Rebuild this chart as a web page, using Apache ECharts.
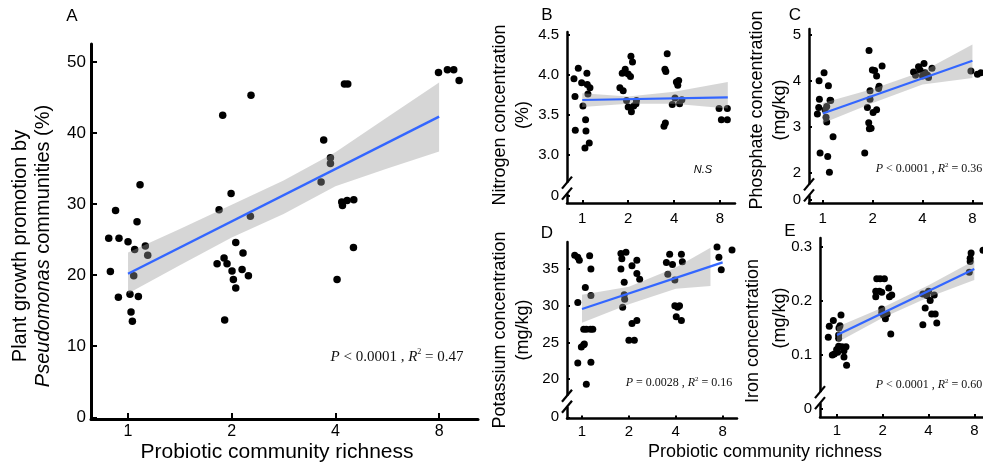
<!DOCTYPE html>
<html><head><meta charset="utf-8">
<script src="https://cdn.jsdelivr.net/npm/echarts@6/dist/echarts.min.js"></script>
<style>html,body{margin:0;padding:0;background:#fff}#c{width:983px;height:468px}</style>
</head><body><div id="c"></div>
<script>
const SANS = "'Liberation Sans', Arial, sans-serif";
const SERIF = "'Liberation Serif', 'Times New Roman', serif";

// Probiotic community richness (axis ticks drawn on log2 positions)
const richness = [1, 2, 4, 8];
const richnessPos = richness.map(v => Math.log2(v));

// Points: [jittered log2(richness), value]
const growthPoints = [
  [-0.186,25.2],[-0.17,20.5],[-0.12,29.1],[-0.093,16.9],[-0.087,25.2],[0,24.7],[0.019,17.3],[0.029,14.8],
  [0.042,13.5],[0.055,19.9],[0.064,23.6],[0.087,27.5],[0.1,17.0],[0.116,32.7],[0.167,24.1],[0.19,22.8],
  [0.859,21.6],[0.878,29.2],[0.913,42.5],[0.926,22.4],[0.932,13.7],[0.955,21.6],[0.994,31.5],[1.003,20.6],
  [1.016,19.4],[1.039,24.6],[1.039,18.2],[1.1,20.8],[1.109,23.1],[1.161,19.9],[1.18,28.3],[1.186,45.3],
  [1.862,33.1],[1.887,39.0],[1.952,36.5],[1.952,35.7],[2.016,19.4],[2.061,30.3],[2.068,29.8],[2.087,46.9],
  [2.113,30.5],[2.119,46.9],[2.177,30.6],[2.174,23.9],
  [2.994,48.5],[3.08,48.9],[3.141,48.9],[3.193,47.4]
];
const growthFit = [[0,20.2],[3,42.3]];
const growthBand = [[0,17.4,23.2],[0.5,21.4,26.5],[1,25.3,29.9],[1.5,28.6,33.3],[2,32.5,37.3],[2.5,35.0,42.2],[3,37.4,47.1]];
const growthTicks = [0,10,20,30,40,50];

const nitrogenPoints = [
  [-0.181,3.95],[-0.159,3.73],[-0.152,3.31],[-0.087,4.08],[-0.014,3.90],[0.014,3.61],[0.072,3.44],[0.08,3.30],
  [0.058,3.09],[0.101,4.02],[0.109,3.88],[0.123,3.76],[0.167,3.84],[0.152,3.15],
  [0.819,3.84],[0.891,3.80],[0.87,4.02],[0.935,4.07],[1.0,4.01],[0.964,3.68],[1.0,3.60],[1.05,3.98],
  [1.06,4.23],[1.094,4.16],[1.07,3.54],[1.12,3.61],[1.18,3.68],[1.17,3.64],
  [1.80,4.07],[1.82,4.04],[1.85,4.26],[1.81,3.40],[1.78,3.36],[1.96,3.63],[2.02,3.71],[2.08,3.87],
  [2.10,3.93],[2.12,3.64],[2.17,3.69],[2.05,3.91],
  [2.98,3.58],[3.16,3.58],[3.03,3.44],[3.16,3.44]
];
const nitrogenFit = [[0,3.686],[3.17,3.72]];
const nitrogenBand = [[0,3.60,3.77],[1,3.64,3.73],[2,3.64,3.79],[3.17,3.58,3.91]];
const nitrogenTicks = [3.0,3.5,4.0,4.5];

const phosphatePoints = [
  [-0.107,3.28],[-0.08,3.42],[-0.073,4.0],[-0.053,2.44],[-0.067,3.60],[0.027,4.17],[0.047,3.37],[0.067,3.21],
  [0.08,3.11],[0.1,2.36],[0.114,3.89],[0.134,2.02],[0.147,3.58],[0.16,3.57],[0.207,2.79],[0.08,3.44],
  [0.842,2.44],[0.928,4.65],[0.895,3.42],[0.922,3.09],[0.948,3.60],[0.969,2.97],[0.948,3.78],[0.995,4.23],
  [1.01,3.31],[1.04,4.22],[1.08,4.10],[1.08,3.37],[1.12,3.83],[1.13,3.88],[1.19,4.32],[0.935,2.96],
  [1.82,4.19],[1.86,4.12],[1.92,4.30],[1.95,4.23],[2.03,4.37],[2.05,4.17],[2.1,4.12],[2.12,4.07],
  [2.19,4.27],[2.0,4.10],
  [2.97,4.21],[3.1,4.14],[3.17,4.17]
];
const phosphateFit = [[0,3.29],[3,4.43]];
const phosphateBand = [[0,3.08,3.52],[1,3.52,3.82],[2,3.92,4.20],[3,4.06,4.78]];
const phosphateTicks = [2,3,4,5];

const potassiumPoints = [
  [-0.156,36.86],[-0.09,36.6],[-0.057,36.2],[-0.09,30.45],[-0.09,22.2],[-0.014,24.4],[0.036,24.7],[0.05,24.8],
  [0.036,26.8],[0.092,19.3],[0.071,32.5],[0.092,26.8],[0.163,36.8],[0.19,35.0],[0.19,31.4],[0.19,22.3],
  [0.18,26.8],[0.23,26.8],
  [0.83,37.1],[0.85,36.4],[0.83,35.0],[0.867,29.8],[0.938,37.3],[0.9,33.2],[0.9,31.5],[0.91,30.9],
  [1.0,25.3],[1.066,35.45],[1.066,27.6],[1.116,25.3],[1.17,36.2],[1.17,28.0],[1.17,34.4],[1.23,33.6],
  [1.8,35.9],[1.83,34.3],[1.87,37.0],[1.93,35.6],[1.98,33.5],[1.98,30.0],[2.01,28.5],[2.04,29.8],
  [2.08,30.0],[2.12,37.0],[2.12,28.0],[2.14,36.0],
  [2.88,38.0],[2.92,36.6],[2.97,34.9],[3.2,37.6]
];
const potassiumFit = [[0,29.55],[3,35.9]];
const potassiumBand = [[0,27.7,31.5],[1,30.2,32.6],[2,32.3,35.2],[2.74,32.7,37.9]];
const potassiumTicks = [20,25,30,35];

const ironPoints = [
  [-0.19,0.132],[-0.168,0.152],[-0.102,0.099],[-0.08,0.163],[-0.058,0.101],[-0.007,0.109],[0.015,0.104],[0.036,0.136],
  [0.036,0.115],[0.044,0.149],[0.066,0.153],[0.088,0.173],[0.11,0.114],[0.153,0.107],[0.153,0.095],[0.197,0.114],
  [0.21,0.08],[0.036,0.13],
  [0.869,0.24],[0.942,0.24],[0.847,0.207],[0.847,0.217],[0.927,0.217],[0.978,0.184],[0.978,0.177],[1.036,0.24],
  [1.058,0.166],[1.095,0.175],[1.13,0.223],[1.146,0.207],[1.197,0.21],[1.175,0.138],[0.978,0.215],[1.015,0.173],
  [1.876,0.155],[1.927,0.186],[1.876,0.212],[1.93,0.212],[2.0,0.217],[2.036,0.2],[2.07,0.175],[2.124,0.21],
  [2.146,0.175],[2.18,0.158],[1.963,0.209],
  [2.89,0.252],[2.91,0.278],[2.93,0.288],[3.19,0.293],[2.91,0.272]
];
const ironFit = [[0,0.136],[3,0.258]];
const ironBand = [[0,0.122,0.151],[1,0.168,0.187],[2,0.206,0.228],[3,0.238,0.274]];
const ironTicks = [0,0.1,0.2,0.3];

// panel setup (layout)
const panels = [
  {points:growthPoints, fit:growthFit, band:growthBand, ticks:growthTicks, fmt:v=>String(v),
   grid:{left:91, top:44, width:387, height:375}, x:[-0.357,3.375], y:[-0.24,52.52],
   zero:null, brk:null, big:true},
  {points:nitrogenPoints, fit:nitrogenFit, band:nitrogenBand, ticks:nitrogenTicks, fmt:v=>v.toFixed(1),
   grid:{left:567, top:32, width:168, height:171}, x:[-0.333,3.327], y:[2.405,4.532],
   zero:2.496, brk:2.59},
  {points:phosphatePoints, fit:phosphateFit, band:phosphateBand, ticks:phosphateTicks, fmt:v=>String(v),
   grid:{left:809, top:29, width:174, height:174}, x:[-0.275,3.212], y:[1.357,5.117],
   zero:1.42, brk:1.64},
  {points:potassiumPoints, fit:potassiumFit, band:potassiumBand, ticks:potassiumTicks, fmt:v=>String(v),
   grid:{left:567, top:242, width:170, height:176.5}, x:[-0.320,3.306], y:[14.65,38.68],
   zero:14.82, brk:17.0},
  {points:ironPoints, fit:ironFit, band:ironBand, ticks:ironTicks, fmt:v=>String(v),
   grid:{left:820, top:238, width:163, height:179}, x:[-0.371,3.19], y:[-0.0159,0.3156],
   zero:null, brk:0.02}
];

const grids=[], xAxes=[], yAxes=[], series=[];
panels.forEach((p,i)=>{
  const lw = p.big ? 3 : 2.5;
  grids.push(Object.assign({containLabel:false, outerBoundsMode:'none'}, p.grid));
  xAxes.push({type:'value', gridIndex:i, min:p.x[0], max:p.x[1],
    axisLine:{show:true, onZero:false, lineStyle:{color:'#000', width:lw}},
    axisTick:{show:true, inside:true, length:p.big?6:3, customValues:richnessPos, lineStyle:{color:'#000', width:2}},
    axisLabel:{customValues:richnessPos, formatter:v=>String(richness[richnessPos.indexOf(v)]),
      color:'#000', fontFamily:SANS, fontSize:p.big?16:15, margin:p.big?5:(i<3?8:6)},
    splitLine:{show:false}});
  const yt = p.zero!==null ? [p.zero].concat(p.ticks) : p.ticks;
  yAxes.push({type:'value', gridIndex:i, min:p.y[0], max:p.y[1],
    axisLine:{show:true, onZero:false, lineStyle:{color:'#000', width:lw}},
    axisTick:{show:true, inside:true, length:p.big?6:3, customValues:yt, lineStyle:{color:'#000', width:2}},
    axisLabel:{customValues:yt, formatter:v=>(v===p.zero?'0':p.fmt(v)),
      color:'#000', fontFamily:SANS, fontSize:p.big?17:15, margin:p.big?5:8},
    splitLine:{show:false}});
  series.push({type:'scatter', xAxisIndex:i, yAxisIndex:i, data:p.points, symbol:'circle',
    symbolSize:p.big?7.5:7, itemStyle:{color:'#000', opacity:1}, clip:false, z:2, silent:true});
  const band = p.band;
  series.push({type:'custom', xAxisIndex:i, yAxisIndex:i, data:band, z:3, silent:true,
    encode:{x:0, y:[1,2]},
    renderItem:(params, api)=>{
      if (params.dataIndex!==0) return null;
      const pts=[];
      band.forEach(r=>pts.push(api.coord([r[0], r[2]])));
      for (let k=band.length-1;k>=0;k--) pts.push(api.coord([band[k][0], band[k][1]]));
      return {type:'polygon', shape:{points:pts}, style:{fill:'rgba(153,153,153,0.4)'}};
    }});
  series.push({type:'line', xAxisIndex:i, yAxisIndex:i, data:p.fit, symbol:'none', z:4, silent:true,
    lineStyle:{color:'#3366FF', width:p.big?2.4:2.2}});
});

function txt(x,y,text,size,extra){
  return Object.assign({type:'text', x, y, z:10, silent:true,
    style:{text, fontFamily:SANS, fontSize:size, fill:'#000', textAlign:'center', textVerticalAlign:'middle'}}, extra||{});
}
function vtxt(x,y,text,size,rich){
  const o = txt(x,y,text,size,{rotation:Math.PI/2});
  if (rich) o.style.rich = rich;
  return o;
}
function stat(x,y,size,op,pv,r2){
  const base={fontFamily:SERIF, fontSize:size, lineHeight:Math.round(size*1.25), verticalAlign:'middle', fill:'#111'};
  return {type:'text', x, y, z:10, silent:true, style:{
    text:`{i|P}{n| ${op} ${pv} , }{i|R}{s|2}{n| = ${r2}}`,
    textAlign:'center', textVerticalAlign:'middle',
    rich:{n:base, i:Object.assign({},base,{fontStyle:'italic'}),
      s:Object.assign({},base,{fontSize:Math.round(size*0.55), verticalAlign:'top'})}}};
}
const italicRich = {i:{fontFamily:SANS, fontSize:20, fontStyle:'italic', fill:'#000'}, n:{fontFamily:SANS, fontSize:20, fill:'#000'}};

const graphics = [
  txt(72,16,'A',17), txt(547,15,'B',17), txt(795,15,'C',17), txt(547,233,'D',17), txt(790,231,'E',17),
  vtxt(20,246,'Plant growth promotion by',20),
  vtxt(43,246,'{i|Pseudomonas}{n| communities (%)}',20,italicRich),
  txt(277,452,'Probiotic community richness',21),
  txt(765,452,'Probiotic community richness',18),
  vtxt(500,115,'Nitrogen concentration',18), vtxt(523,115,'(%)',18),
  vtxt(757,110,'Phosphate concentration',18), vtxt(780,110,'(mg/kg)',18),
  vtxt(500,330,'Potassium concentration',18), vtxt(523,330,'(mg/kg)',18),
  vtxt(753,331,'Iron concentration',18), vtxt(780,318,'(mg/kg)',18),
  stat(397,357,15,'<','0.0001','0.47'),
  txt(703,170,'N.S',11,{}),
  stat(929,169,12,'<','0.0001','0.36'),
  stat(679,383,12,'=','0.0028','0.16'),
  stat(929,385,12,'<','0.0001','0.60')
];
graphics[graphics.length-4].style.fontStyle='italic';

const chart = echarts.init(document.getElementById('c'), null, {renderer:'canvas'});
chart.setOption({animation:false, backgroundColor:'#fff', grid:grids, xAxis:xAxes, yAxis:yAxes, series, graphic:graphics});

// axis break marks
panels.forEach((p,i)=>{
  if (p.brk===null) return;
  const c = chart.convertToPixel({gridIndex:i}, [p.x[0], p.brk]);
  const px=c[0], py=c[1];
  graphics.push({type:'rect', z:20, silent:true, shape:{x:px-3, y:py-5.5, width:6, height:11}, style:{fill:'#fff'}});
  [-5.5,5.5].forEach(d=>{
    graphics.push({type:'line', z:21, silent:true, shape:{x1:px-5, y1:py+d+6, x2:px+5, y2:py+d-6},
      style:{stroke:'#000', lineWidth:2.2}});
  });
});
chart.setOption({graphic:graphics});
</script></body></html>
